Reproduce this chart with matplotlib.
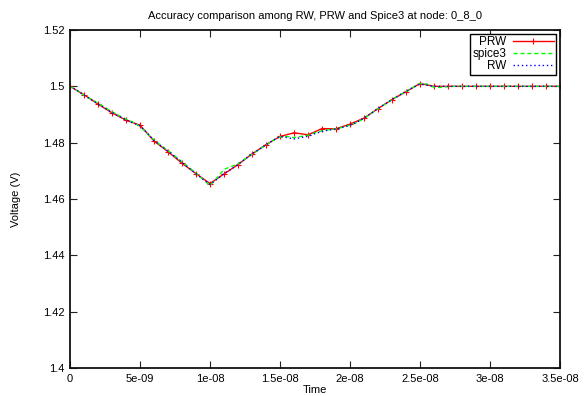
import numpy as np
import matplotlib
matplotlib.use("Agg")
import matplotlib.pyplot as plt

plt.rcParams['font.family'] = ['Liberation Sans', 'DejaVu Sans']

title = "Accuracy comparison among RW, PRW and Spice3 at node: 0_8_0"
xlabel = "Time"
ylabel = "Voltage (V)"

# PRW samples every 1e-9 s
prw_t_step = 1e-9
prw_v = [1.5000, 1.4970, 1.4937, 1.4906, 1.4880, 1.4862, 1.4806, 1.4768, 1.4727,
         1.4690, 1.4655, 1.4689, 1.4722, 1.4760, 1.4793, 1.4822, 1.4835, 1.4828,
         1.4850, 1.4849, 1.4866, 1.4887, 1.4921, 1.4953, 1.4981, 1.5010,
         1.5000, 1.5000, 1.5000, 1.5000, 1.5000, 1.5000, 1.5000, 1.5000, 1.5000, 1.5000]

# spice3 and RW samples every 0.5e-9 s
fine_t_step = 0.5e-9
spice_v = [1.5000, 1.4985, 1.4968, 1.4955, 1.4940, 1.4925, 1.4910, 1.4896, 1.4884, 1.4872,
           1.4858, 1.4833, 1.4810, 1.4790, 1.4772, 1.4752, 1.4732, 1.4712, 1.4692, 1.4670,
           1.4648, 1.4675, 1.4705, 1.4715, 1.4725, 1.4742, 1.4758, 1.4775, 1.4792, 1.4808,
           1.4820, 1.4822, 1.4818, 1.4822, 1.4826, 1.4835, 1.4842, 1.4846, 1.4849, 1.4855,
           1.4862, 1.4872, 1.4886, 1.4903, 1.4920, 1.4937, 1.4953, 1.4968, 1.4982, 1.4996,
           1.5010, 1.5008, 1.4997, 1.4996, 1.4999,
           1.5000, 1.5000, 1.5000, 1.5000, 1.5000, 1.5000, 1.5000, 1.5000,
           1.5000, 1.5000, 1.5000, 1.5000, 1.5000, 1.5000, 1.5000, 1.5000]
rw_v = [1.5000, 1.4986, 1.4969, 1.4953, 1.4938, 1.4922, 1.4907, 1.4894, 1.4881, 1.4870,
        1.4860, 1.4835, 1.4808, 1.4788, 1.4770, 1.4750, 1.4730, 1.4710, 1.4690, 1.4670,
        1.4652, 1.4670, 1.4690, 1.4706, 1.4722, 1.4742, 1.4760, 1.4776, 1.4792, 1.4808,
        1.4822, 1.4818, 1.4813, 1.4818, 1.4823, 1.4832, 1.4840, 1.4845, 1.4848, 1.4855,
        1.4862, 1.4873, 1.4887, 1.4904, 1.4921, 1.4937, 1.4953, 1.4968, 1.4982, 1.4996,
        1.5008, 1.5004, 1.5000, 1.5000, 1.5000,
        1.5000, 1.5000, 1.5000, 1.5000, 1.5000, 1.5000, 1.5000, 1.5000,
        1.5000, 1.5000, 1.5000, 1.5000, 1.5000, 1.5000, 1.5000, 1.5000]

xticks = [0, 5e-9, 1e-8, 1.5e-8, 2e-8, 2.5e-8, 3e-8, 3.5e-8]
xticklabels = ["0", "5e-09", "1e-08", "1.5e-08", "2e-08", "2.5e-08", "3e-08", "3.5e-08"]
yticks = [1.4, 1.42, 1.44, 1.46, 1.48, 1.5, 1.52]
yticklabels = ["1.4", "1.42", "1.44", "1.46", "1.48", "1.5", "1.52"]

prw_t = np.arange(len(prw_v)) * prw_t_step
spice_t = np.arange(len(spice_v)) * fine_t_step
rw_t = np.arange(len(rw_v)) * fine_t_step

fig = plt.figure(figsize=(5.85, 3.96), dpi=100)
ax = fig.add_axes([70/585, 1-368/396, (560-70)/585, (368-30)/396])

ax.plot(prw_t, prw_v, color='#ff0000', lw=1.0, marker='+', ms=5, mew=0.8, label='PRW')
ax.plot(spice_t, spice_v, color='#00ff00', lw=1.0, ls=(0, (3, 2)), label='spice3')
ax.plot(rw_t, rw_v, color='#0000ff', lw=1.0, ls=(0, (1, 2)), label='RW')

ax.set_xlim(0, 3.5e-8)
ax.set_ylim(1.4, 1.52)
ax.set_xticks(xticks)
ax.set_xticklabels(xticklabels)
ax.set_yticks(yticks)
ax.set_yticklabels(yticklabels)
ax.tick_params(direction='in', length=5, width=0.8, top=True, right=True,
               labelsize=8, pad=4, color='#222222')
for s in ax.spines.values():
    s.set_linewidth(1.3)
    s.set_color('#111111')

ax.set_title(title, fontsize=8, pad=8)
ax.set_xlabel(xlabel, fontsize=8, labelpad=1)
ax.set_ylabel(ylabel, fontsize=8, labelpad=16)

leg = ax.legend(loc='upper right', markerfirst=False, fontsize=8.5, frameon=True,
                fancybox=False, edgecolor='black', framealpha=1, handlelength=3.4,
                borderpad=0.2, labelspacing=0.0, handletextpad=0.6,
                borderaxespad=0.35)
leg.get_frame().set_linewidth(1.0)

fig.savefig("out.png", dpi=100)
